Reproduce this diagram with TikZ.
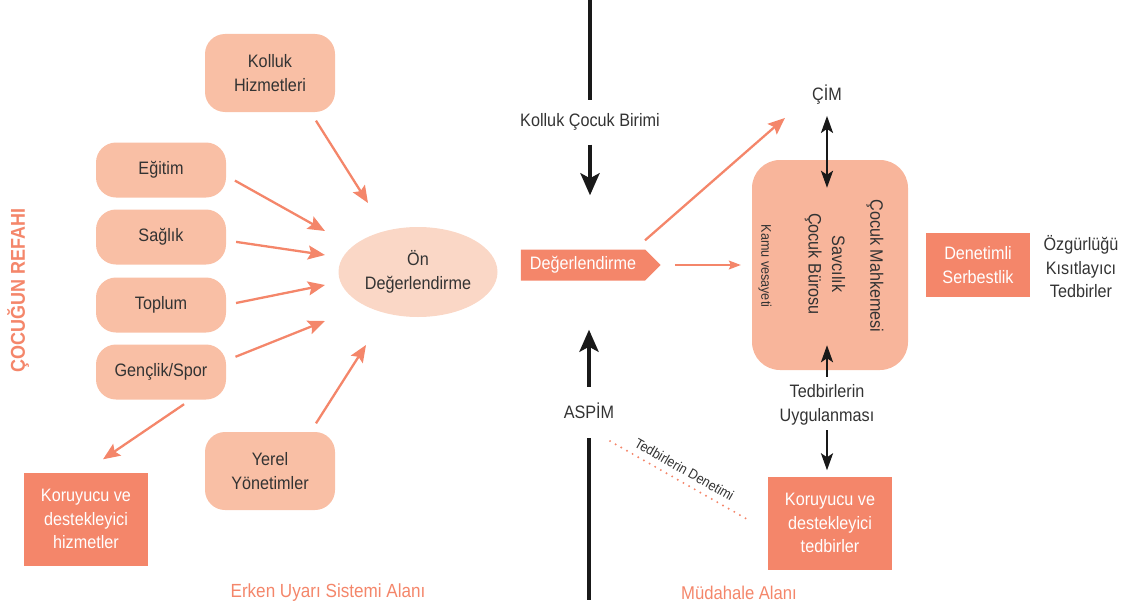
\documentclass[tikz,border=0pt]{standalone}
\usepackage{fontspec}
\setmainfont{Liberation Sans}[FakeStretch=0.9]
\usetikzlibrary{shapes,shapes.geometric,shapes.symbols,arrows.meta,calc}
\definecolor{salmon}{HTML}{F4866A}
\definecolor{peach}{HTML}{F9BFA5}
\definecolor{pale}{HTML}{FAD7C6}
\definecolor{boxpeach}{HTML}{F8B59B}
\definecolor{ink}{HTML}{333333}
\newcommand{\bigtxt}{\fontsize{18}{23.5}\selectfont}
\newcommand{\smalltxt}{\fontsize{14}{17}\selectfont}

\begin{document}
\begin{tikzpicture}
[x=1pt,y=-1pt,
every node/.style={text=ink,font=\bigtxt,align=center,inner sep=2pt},
softbox/.style={fill=peach,rounded corners=20pt,minimum width=130pt,minimum height=55pt},
darkbox/.style={fill=salmon,text=white,minimum width=124pt,minimum height=93pt},
pinkarrow/.style={draw=salmon,line width=2.3pt,-{Stealth[length=17pt,width=14pt,inset=3pt]}},
blackarrow/.style={draw=black!90,line width=4.5pt,-{Stealth[length=22pt,width=19pt,inset=5pt]}},
thinarrow/.style={draw=black!90,line width=2.6pt,-{Stealth[length=17pt,width=12pt,inset=4pt]}}]
\useasboundingbox (0,0) rectangle (1123,610);

% erken uyari tarafi
\node[softbox,minimum height=78pt] (kolluk) at (270,73) {Kolluk\\Hizmetleri};
\node[softbox] (egitim) at (161,170) {Eğitim};
\node[softbox] (saglik) at (161,237) {Sağlık};
\node[softbox] (toplum) at (161,305) {Toplum};
\node[softbox] (genclik) at (161,372) {Gençlik/Spor};
\node[softbox,minimum height=78pt] (yerel) at (270,471) {Yerel\\Yönetimler};
\node[ellipse,fill=pale,minimum width=159pt,minimum height=90pt] (on) at (418,272) {Ön\\Değerlendirme};
\node[darkbox] (kor1) at (86,519) {Koruyucu ve\\destekleyici\\hizmetler};
\node[rotate=90,text=salmon,font=\fontsize{20}{24}\selectfont\bfseries] (refah) at (18,290) {ÇOCUĞUN REFAHI};
\node[text=salmon,font=\fontsize{19}{23}\selectfont] (erken) at (328,593) {Erken Uyarı Sistemi Alanı};

\path
\foreach \src/\dx/\dy in {kolluk.-44/-50/-69,egitim.-5/-93/-41,saglik.-3/-93/-17,
	toplum.0/-93/13,genclik.10/-93/49,yerel.44/-52/73}
{
	(\src) edge[pinkarrow,shorten <=10pt] ($(on)+(\dx,\dy)$)
};
\draw[pinkarrow,shorten <=8pt] (genclik.-43) -- ($(kor1.north)+(17,-13)$);

% orta eksen
\node (kcb) at (590,122) {Kolluk Çocuk Birimi};
\node[shape=signal,signal to=east,signal pointer angle=90,fill=salmon,text=white,
	minimum height=31pt,inner xsep=9pt,inner ysep=0pt] (deg) at (583,265) {Değerlendirme};
\node (aspim) at (589,411) {ASPİM};
\coordinate (top) at (590,0);
\coordinate (bot) at (590,600);
\draw[draw=black!90,line width=4.5pt,shorten >=11pt] (top) -- (kcb.north);
\draw[blackarrow,shorten <=12pt,shorten >=54pt] (kcb.south) -- (kcb.south |- deg.north);
\draw[blackarrow,shorten <=14pt,shorten >=49pt] (aspim.north) -- (aspim.north |- deg.south);
\draw[draw=black!90,line width=4.5pt,shorten <=17pt] (aspim.south) -- (aspim.south |- bot);

% mudahale tarafi
\node (cim) at (827,95) {ÇİM};
\node[fill=boxpeach,rounded corners=28pt,minimum width=156pt,minimum height=210pt] (box) at (830,265) {};
\node[rotate=-90] (mahkeme) at (875,266) {Çocuk Mahkemesi};
\node[rotate=-90] (savci) at (825,264) {Savcılık\\Çocuk Bürosu};
\node[rotate=-90,font=\smalltxt] (vesayet) at (765,266) {Kamu vesayeti};
\node (tu) at (827,405) {Tedbirlerin\\Uygulanması};
\node[darkbox] (kor2) at (830,523) {Koruyucu ve\\destekleyici\\tedbirler};
\node[darkbox,minimum width=104pt,minimum height=64pt] (ds) at (978,265) {Denetimli\\Serbestlik};
\node (ozgur) at (1081,267) {Özgürlüğü\\Kısıtlayıcı\\Tedbirler};
\node[text=salmon,font=\fontsize{18.5}{23}\selectfont] (mudahale) at (739,593) {Müdahale Alanı};

\draw[pinkarrow] ($(deg.north)+(62,-9)$) -- ($(cim.south west)+(-25,11)$);
\draw[draw=salmon,line width=1.2pt,-{Stealth[length=12pt,width=9pt,inset=2pt]},
	shorten <=14pt,shorten >=11pt] (deg.east) -- (box.west);
\draw[draw=black!90,line width=2.6pt,
	{Stealth[length=17pt,width=12pt,inset=4pt]}-{Stealth[length=17pt,width=12pt,inset=4pt]},
	shorten <=9pt] (cim.south) -- ($(cim.south |- box.north)+(0,28)$);
\draw[thinarrow,shorten <=6pt] (tu.north) -- ($(tu.north |- box.south)+(0,-25)$);
\draw[thinarrow,shorten <=3pt,shorten >=6pt] (tu.south) -- (tu.south |- kor2.north);
\draw[draw=salmon,line width=2.2pt,line cap=round,dash pattern=on 0pt off 6.5pt]
	($(aspim.south)+(21,20)$) -- ($(kor2.west)+(-21,-4)$)
	node[midway,sloped,above,font=\smalltxt,inner sep=6pt] (denetim) {Tedbirlerin Denetimi};
\end{tikzpicture}
\end{document}
